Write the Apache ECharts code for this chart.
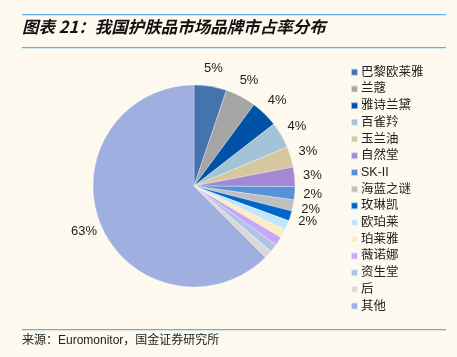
<!DOCTYPE html>
<html>
<head>
<meta charset="utf-8">
<script src="https://cdn.jsdelivr.net/npm/echarts@6/dist/echarts.min.js"></script>
<style>
html,body{margin:0;padding:0;background:#FDF9EF;}
#c{width:457px;height:357px;}
</style>
</head>
<body>
<div id="c"></div>
<script>
const brands = ['巴黎欧莱雅','兰蔻','雅诗兰黛','百雀羚','玉兰油','自然堂','SK-II','海蓝之谜','玫琳凯','欧珀莱','珀莱雅','薇诺娜','资生堂','后','其他'];
const shares = [5.2, 4.9, 4.4, 4.2, 3.3, 3.1, 2.1, 1.8, 1.6, 1.5, 1.4, 1.4, 1.3, 1.3, 62.5];
const shareLabels = ['5%','5%','4%','4%','3%','3%','2%','2%','2%','','','','','','63%'];
const colors = ['#4473AD','#A5A5A5','#0052A6','#A2C4D6','#D6C7A0','#A389D3','#5592D7','#BFBFBF','#0066CC','#BFE6FA','#FCEBC3','#C7A7F6','#AFC3E7','#D9D9D9','#9FAFE0'];
const titleText = '图表 21：我国护肤品市场品牌市占率分布';
const sourceText = '来源：Euromonitor，国金证券研究所';

const chart = echarts.init(document.getElementById('c'), null, {renderer:'canvas'});
const latin = "'Liberation Sans', Arial, 'Noto Sans CJK SC', sans-serif";
chart.setOption({
  backgroundColor: '#FDF9EF',
  animation: false,
  color: colors,
  legend: {
    orient: 'vertical',
    left: 345,
    top: 61,
    icon: 'rect',
    itemWidth: 7,
    itemHeight: 7,
    itemGap: 4.2,
    textStyle: {fontSize: 12.5, color: '#222', fontFamily: latin, padding: [0,0,0,-2]},
    data: brands.map((n,i)=>({name:n, itemStyle:{color:colors[i]}}))
  },
  graphic: [
    {type:'rect', shape:{x:22,y:14,width:424,height:1.2}, style:{fill:'#5CB4E6'}},
    {type:'rect', shape:{x:22,y:47,width:424,height:1.2}, style:{fill:'#5CB4E6'}},
    {type:'rect', shape:{x:22,y:329,width:424,height:1.2}, style:{fill:'#5CB4E6'}},
    {type:'text', left:22, top:18, style:{text:titleText, fontSize:16.5, fontWeight:'bold', fontStyle:'italic', fill:'#111', fontFamily:"'Noto Sans CJK SC', sans-serif"}},
    {type:'text', left:22, top:335, style:{text:sourceText, fontSize:12, fill:'#222', fontFamily:"'Liberation Sans', 'Noto Sans CJK SC', sans-serif"}}
  ],
  series: [
    {
      type: 'pie',
      center: [194, 186],
      radius: [0, 101],
      startAngle: 90,
      clockwise: true,
      label: {show:false},
      labelLine: {show:false},
      itemStyle: {borderColor:'rgba(255,255,255,0.6)', borderWidth:0.5},
      data: brands.map((n,i)=>({name:n, value:shares[i]}))
    },
    {
      type: 'pie',
      center: [194, 186],
      radius: [104, 128],
      startAngle: 90,
      clockwise: true,
      silent: true,
      legendHoverLink: false,
      itemStyle: {color:'rgba(0,0,0,0)'},
      labelLine: {show:false},
      labelLayout: {hideOverlap: false},
      label: {
        show: true,
        position: 'inside',
        fontSize: 13,
        lineHeight: 13,
        color: '#222',
        fontFamily: latin,
        formatter: p => shareLabels[p.dataIndex]
      },
      data: brands.map((n,i)=>({name:n, value:shares[i]}))
    }
  ]
});
</script>
</body>
</html>
